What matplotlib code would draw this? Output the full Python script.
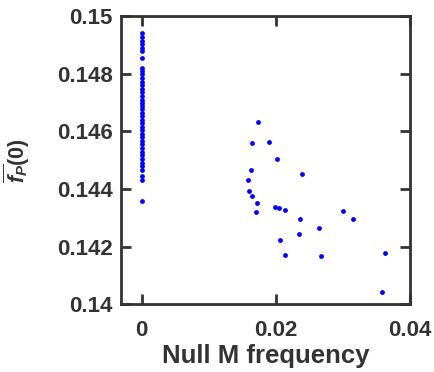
import matplotlib
matplotlib.use('Agg')
import matplotlib.pyplot as plt

# data
# null M frequency == 0 group
zero_y = [0.14940, 0.14928, 0.14915, 0.14902, 0.14890, 0.14878, 0.14853,
          0.14820, 0.14810, 0.14798, 0.14785, 0.14772, 0.14760, 0.14748,
          0.14735, 0.14722, 0.14710, 0.14700, 0.14688, 0.14676, 0.14665,
          0.14652, 0.14640, 0.14628, 0.14615, 0.14605, 0.14592, 0.14580,
          0.14568, 0.14555, 0.14542, 0.14530, 0.14518, 0.14505, 0.14492,
          0.14480, 0.14465, 0.14445, 0.14430, 0.14358]

# nonzero frequency group
freq_x = [0.01731, 0.01642, 0.01900, 0.02025, 0.01637, 0.01593, 0.02399,
          0.01607, 0.01642, 0.01721, 0.01706, 0.01996, 0.02049, 0.02139,
          0.03010, 0.02369, 0.03160, 0.02646, 0.02348, 0.02070, 0.02134,
          0.02676, 0.03637, 0.03587]
freq_y = [0.14632, 0.14560, 0.14563, 0.14505, 0.14465, 0.14433, 0.14451,
          0.14393, 0.14376, 0.14351, 0.14319, 0.14338, 0.14333, 0.14329,
          0.14324, 0.14295, 0.14295, 0.14265, 0.14243, 0.14224, 0.14170,
          0.14167, 0.14180, 0.14045]

xticks = [0, 0.02, 0.04]
xtick_labels = ['0', '0.02', '0.04']
yticks = [0.14, 0.142, 0.144, 0.146, 0.148, 0.15]
ytick_labels = ['0.14', '0.142', '0.144', '0.146', '0.148', '0.15']

plt.rcParams['font.family'] = ['Liberation Sans', 'DejaVu Sans']
plt.rcParams['font.weight'] = 'bold'
plt.rcParams['mathtext.fontset'] = 'custom'
plt.rcParams['mathtext.it'] = 'Liberation Sans:bold:italic'
plt.rcParams['mathtext.rm'] = 'Liberation Sans:bold'
plt.rcParams['mathtext.bf'] = 'Liberation Sans:bold'

fig = plt.figure(figsize=(4.35, 3.72), dpi=100)
ax = fig.add_axes([0.278, 0.1815, 0.665, 0.7755])

ax.scatter([0] * len(zero_y), zero_y, s=12, color='#0000ff', linewidths=0)
ax.scatter(freq_x, freq_y, s=12, color='#0000ff', linewidths=0)

ax.set_xlim(-0.0031, 0.0401)
ax.set_ylim(0.14, 0.15)
ax.set_xticks(xticks)
ax.set_xticklabels(xtick_labels)
ax.set_yticks(yticks)
ax.set_yticklabels(ytick_labels)

dark = '#333333'
for sp in ax.spines.values():
    sp.set_linewidth(2)
    sp.set_color(dark)
ax.tick_params(direction='in', length=7, width=2, color=dark,
               top=True, right=True, labelsize=16, labelcolor=dark)
ax.tick_params(axis='y', pad=6)
ax.tick_params(axis='x', pad=11)

ax.set_xlabel('Null M frequency', fontsize=18.5, fontweight='bold', color=dark, labelpad=2)
ax.set_ylabel(r'$\overline{f_P}\mathrm{(0)}$', fontsize=15.5, color=dark, labelpad=18)

fig.savefig('out.png', dpi=100)
